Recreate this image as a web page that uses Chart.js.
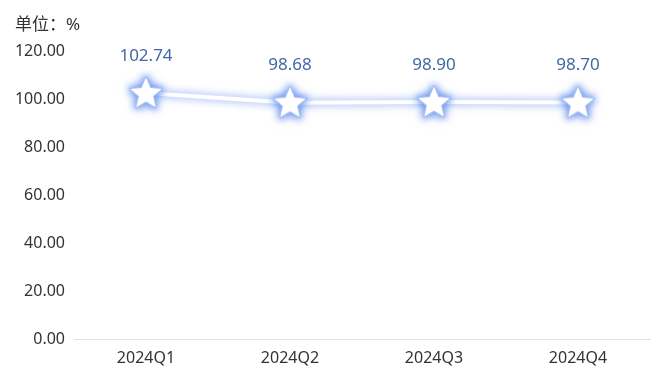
<!DOCTYPE html>
<html>
<head>
<meta charset="utf-8">
<script src="https://cdn.jsdelivr.net/npm/chart.js@4/dist/chart.umd.min.js"></script>
<style>
  html, body { margin: 0; padding: 0; background: #ffffff; }
  #wrap { width: 660px; height: 380px; }
</style>
</head>
<body>
<div id="wrap"><canvas id="c" width="660" height="380"></canvas></div>
<script>
const categories = ['2024Q1', '2024Q2', '2024Q3', '2024Q4'];
const values = [102.74, 98.68, 98.90, 98.70];
const yTicks = [0, 20, 40, 60, 80, 100, 120];
const unitTitle = '单位：%';

const FONT = '"Noto Sans", "Noto Sans CJK SC", sans-serif';

// star point image
function makeStar() {
  const s = 44, cv = document.createElement('canvas');
  cv.width = s; cv.height = s;
  const g = cv.getContext('2d');
  const cx = s / 2, cy = s / 2 + 1, R = 16.5, r = 7.4;
  g.beginPath();
  for (let i = 0; i < 10; i++) {
    const ang = -Math.PI / 2 + i * Math.PI / 5;
    const rad = i % 2 === 0 ? R : r;
    const x = cx + rad * Math.cos(ang), y = cy + rad * Math.sin(ang);
    if (i === 0) g.moveTo(x, y); else g.lineTo(x, y);
  }
  g.closePath();
  g.shadowColor = 'rgba(80,130,235,0.8)';
  g.shadowBlur = 7;
  g.lineJoin = 'round';
  g.strokeStyle = 'rgba(165,190,245,1)';
  g.lineWidth = 2.5;
  g.stroke();
  g.shadowBlur = 0;
  g.fillStyle = '#ffffff';
  g.fill();
  return cv;
}
const starImg = makeStar();

const glowPlugin = {
  id: 'glow',
  beforeDatasetsDraw(chart) {
    const ctx = chart.ctx;
    ctx.save();
    ctx.shadowColor = 'rgba(80,130,235,0.8)';
    ctx.shadowBlur = 8;
    ctx.shadowOffsetX = 0;
    ctx.shadowOffsetY = 0;
  },
  afterDatasetsDraw(chart) {
    chart.ctx.restore();
  }
};

const labelPlugin = {
  id: 'valueLabels',
  afterDatasetsDraw(chart) {
    const ctx = chart.ctx;
    const meta = chart.getDatasetMeta(0);
    ctx.save();
    ctx.font = '17px ' + FONT;
    ctx.fillStyle = '#4068a8';
    ctx.textAlign = 'center';
    ctx.textBaseline = 'middle';
    meta.data.forEach((pt, i) => {
      ctx.fillText(values[i].toFixed(2), pt.x, pt.y - 37);
    });
    ctx.restore();
  }
};

new Chart(document.getElementById('c'), {
  type: 'line',
  data: {
    labels: categories,
    datasets: [{
      data: values,
      borderColor: '#ffffff',
      borderWidth: 4,
      pointStyle: starImg,
      pointRadius: 17,
      pointHoverRadius: 17,
      tension: 0,
      fill: false,
      clip: false
    }]
  },
  options: {
    responsive: false,
    animation: false,
    events: [],
    layout: { autoPadding: false, padding: { left: 15, right: 10, top: 0, bottom: 3 } },
    plugins: {
      legend: { display: false },
      tooltip: { enabled: false },
      title: {
        display: true,
        text: unitTitle,
        align: 'start',
        color: '#333333',
        font: { size: 17, family: FONT, weight: 'normal' },
        padding: { top: 15, bottom: 16 }
      }
    },
    scales: {
      x: {
        offset: true,
        afterFit(scale) { scale.paddingLeft = 0; scale.paddingRight = 0; },
        grid: { display: false, drawTicks: false },
        border: { display: true, color: '#e2e2e2', width: 1 },
        ticks: { color: '#333333', font: { size: 16, family: FONT }, padding: 9, maxRotation: 0 }
      },
      y: {
        min: 0,
        max: 120,
        afterBuildTicks(scale) { scale.ticks = yTicks.map(v => ({ value: v })); },
        afterFit(scale) { scale.width = 59; },
        grid: { display: false, drawTicks: false },
        border: { display: false },
        ticks: {
          color: '#333333',
          font: { size: 16, family: FONT },
          padding: 9,
          callback: v => Number(v).toFixed(2)
        }
      }
    }
  },
  plugins: [glowPlugin, labelPlugin]
});
</script>
</body>
</html>
